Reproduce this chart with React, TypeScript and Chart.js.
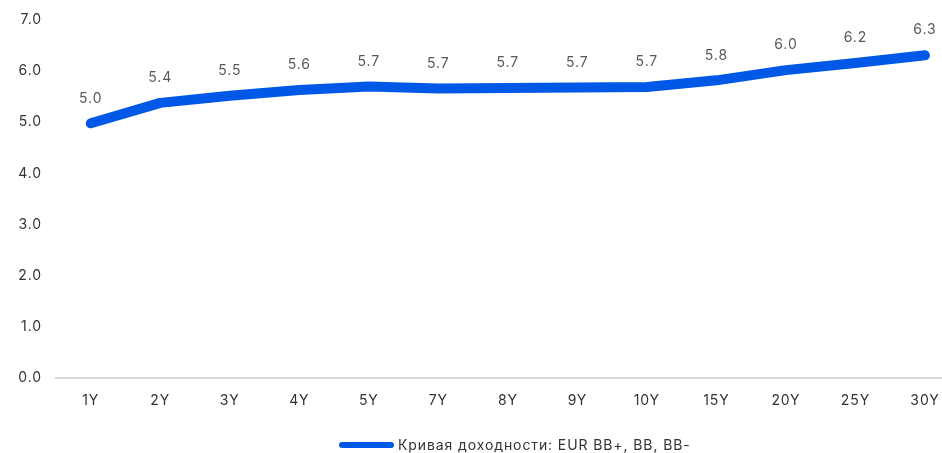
import React, { useEffect, useRef } from "react";
import { Chart, registerables } from "chart.js";

Chart.register(...registerables);

const categories = ["1Y", "2Y", "3Y", "4Y", "5Y", "7Y", "8Y", "9Y", "10Y", "15Y", "20Y", "25Y", "30Y"];
const yieldValues = [4.98, 5.38, 5.52, 5.63, 5.7, 5.66, 5.67, 5.68, 5.69, 5.82, 6.02, 6.16, 6.31];
const seriesLabel = "Кривая доходности: EUR BB+, BB, BB-";
const yTickValues = [0, 1, 2, 3, 4, 5, 6, 7];

const FONT = "Inter, 'Noto Sans', sans-serif";
const BLUE = "#0059e6";
const SPACING = "0.9px";

const spacingPlugin = {
  id: "letterSpacing",
  beforeUpdate(chart: any) {
    chart.ctx.letterSpacing = SPACING;
  },
  beforeLayout(chart: any) {
    chart.ctx.letterSpacing = SPACING;
  },
  beforeDraw(chart: any) {
    chart.ctx.letterSpacing = SPACING;
  },
};

const dataLabelPlugin = {
  id: "dataLabelsInline",
  afterDatasetsDraw(chart: any) {
    const ctx = chart.ctx;
    const meta = chart.getDatasetMeta(0);
    ctx.save();
    ctx.letterSpacing = SPACING;
    ctx.font = `14px ${FONT}`;
    ctx.fillStyle = "#595959";
    ctx.textAlign = "center";
    ctx.textBaseline = "middle";
    meta.data.forEach((pt: any, i: number) => {
      ctx.fillText(yieldValues[i].toFixed(1), pt.x, pt.y - 25);
    });
    ctx.restore();
  },
};

export default function App() {
  const canvasRef = useRef<HTMLCanvasElement | null>(null);

  useEffect(() => {
    document.body.style.margin = "0";
    const canvas = canvasRef.current!;
    const chart = new Chart(canvas, {
      type: "line",
      data: {
        datasets: [
          {
            label: seriesLabel,
            data: yieldValues.map((v, i) => ({ x: i, y: v })),
            borderColor: BLUE,
            backgroundColor: BLUE,
            borderWidth: 10,
            borderCapStyle: "round",
            borderJoinStyle: "round",
            pointRadius: 0,
            tension: 0,
          },
        ],
      },
      options: {
        animation: false,
        responsive: true,
        maintainAspectRatio: false,
        layout: { padding: { top: 20, right: 0, left: 0, bottom: 0 } },
        plugins: {
          tooltip: { enabled: false },
          legend: { display: false },
        },
        scales: {
          x: {
            type: "linear",
            min: -0.5,
            max: 12.245,
            afterBuildTicks: (scale: any) => {
              scale.ticks = categories.map((_, i) => ({ value: i }));
            },
            afterFit: (scale: any) => {
              scale.height = 75;
              scale.paddingLeft = 0;
              scale.paddingRight = 0;
            },
            grid: { display: false, drawTicks: false },
            border: { display: true, color: "#d9d9d9", width: 2 },
            ticks: {
              font: { family: FONT, size: 14 },
              color: "#333333",
              padding: 14,
              maxRotation: 0,
              autoSkip: false,
              callback: (v: any) => categories[Math.round(Number(v))] ?? "",
            },
          },
          y: {
            min: 0,
            max: 7,
            afterFit: (scale: any) => {
              scale.width = 56;
              scale.paddingTop = 0;
              scale.paddingBottom = 0;
            },
            afterBuildTicks: (scale: any) => {
              scale.ticks = yTickValues.map((v) => ({ value: v }));
            },
            grid: { display: false, drawTicks: false },
            border: { display: false },
            ticks: {
              font: { family: FONT, size: 14 },
              color: "#333333",
              padding: 14,
              callback: (v: any) => Number(v).toFixed(1),
            },
          },
        },
      },
      plugins: [spacingPlugin, dataLabelPlugin],
    } as any);
    return () => chart.destroy();
  }, []);

  return (
    <div style={{ position: "fixed", left: 0, top: 0, width: 942, height: 453, overflow: "hidden" }}>
      <canvas ref={canvasRef} />
      <div
        style={{
          position: "absolute",
          left: 339,
          top: 435,
          height: 20,
          lineHeight: "20px",
          display: "flex",
          alignItems: "center",
          fontFamily: FONT,
          fontSize: 14,
          letterSpacing: SPACING,
          color: "#333333",
          whiteSpace: "nowrap",
        }}
      >
        <span
          style={{
            display: "inline-block",
            width: 55,
            height: 6,
            borderRadius: 3,
            background: BLUE,
            marginRight: 4,
          }}
        />
        <span>{seriesLabel}</span>
      </div>
    </div>
  );
}
